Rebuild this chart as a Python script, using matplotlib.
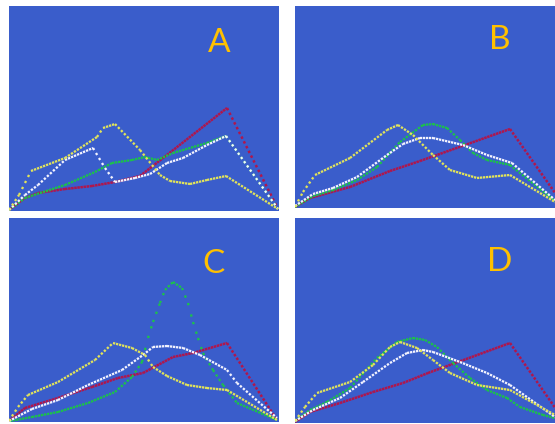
#!/usr/bin/env python3
# four panels of dotted curves on blue, labelled A-D
import numpy as np
import matplotlib.pyplot as plt

plt.rcParams['lines.scale_dashes'] = False

# curves, (x, y) in panel pixels from the lower-left corner
A_YELLOW = [(0, 1), (10, 16), (22, 40), (56, 53), (88, 74), (94, 83), (106, 87), (131, 61),
            (151, 36), (161, 30), (181, 27), (198, 31), (217, 35), (269, 2)]
A_WHITE = [(0, 1), (16, 16), (29, 26), (56, 51), (84, 63), (96, 43), (106, 29), (126, 33),
           (141, 37), (158, 48), (174, 53), (198, 66), (217, 75), (269, 2)]
A_GREEN = [(0, 1), (16, 13), (28, 17), (56, 26), (86, 39), (103, 48), (123, 51), (136, 54),
           (148, 51), (164, 58), (198, 68), (217, 75), (269, 2)]
A_RED = [(0, 1), (16, 13), (29, 18), (56, 22), (83, 25), (106, 29), (131, 35), (218, 103), (269, 2)]

B_YELLOW = [(0, 1), (8, 16), (20, 33), (55, 50), (92, 78), (103, 83), (118, 73), (138, 53),
            (155, 38), (182, 30), (215, 33), (260, 6), (270, 1)]
B_WHITE = [(0, 2), (18, 14), (38, 20), (62, 31), (92, 53), (108, 64), (125, 70), (138, 70),
           (168, 63), (192, 53), (217, 45), (260, 8), (270, 1)]
B_GREEN = [(0, 1), (18, 12), (38, 18), (62, 28), (82, 41), (105, 66), (128, 83), (138, 84),
           (152, 80), (165, 68), (178, 55), (192, 48), (215, 43), (260, 7), (270, 1)]
B_RED = [(0, 1), (15, 10), (55, 21), (95, 37), (125, 47), (215, 79), (270, 1)]

C_YELLOW = [(0, 1), (9, 15), (19, 27), (49, 40), (86, 62), (104, 79), (123, 74), (136, 67),
            (144, 55), (158, 46), (178, 37), (198, 34), (218, 32), (268, 2)]
C_WHITE = [(0, 1), (23, 13), (49, 22), (79, 37), (113, 52), (134, 67), (144, 75), (158, 76),
           (174, 74), (191, 67), (218, 52), (228, 39), (268, 4)]
C_GREEN = [(1, 1), (23, 5), (49, 10), (79, 19), (106, 30), (123, 45), (133, 60), (139, 84),
           (144, 100), (151, 119), (156, 132), (164, 140), (173, 134), (179, 119), (184, 100),
           (189, 84), (194, 69), (204, 52), (214, 37), (228, 19), (268, 2)]
C_RED = [(0, 1), (16, 14), (49, 24), (83, 35), (109, 44), (134, 49), (164, 65), (184, 69),
         (218, 79), (268, 2)]

D_YELLOW = [(0, 2), (10, 16), (22, 30), (55, 41), (78, 58), (95, 76), (105, 81), (122, 75),
            (138, 63), (155, 50), (182, 38), (215, 33), (260, 8), (270, 2)]
D_WHITE = [(0, 2), (18, 13), (45, 25), (68, 41), (95, 60), (112, 70), (128, 73), (138, 71),
           (165, 61), (192, 50), (215, 38), (260, 6), (270, 2)]
D_GREEN = [(0, 2), (15, 13), (32, 21), (55, 35), (82, 65), (102, 81), (118, 85), (130, 83),
           (142, 76), (158, 60), (175, 45), (192, 33), (212, 25), (225, 16), (248, 8),
           (260, 5), (270, 2)]
D_RED = [(0, 1), (15, 11), (45, 20), (78, 31), (108, 40), (133, 50), (215, 80), (270, 1)]

LETTERS = ['A', 'B', 'C', 'D']

BLUE = '#3a5dcb'
RED = '#b0164c'
GREEN = '#1cc24a'
WHITE = '#f4f4ff'
YELLOW = '#e2e45a'
GOLD = '#ffc000'


def dotted(ax, pts, color, step=3.0, size=2.0):
    # dots every `step` px in x, so steep parts come out sparse
    for (x0, y0), (x1, y1) in zip(pts[:-1], pts[1:]):
        dx = abs(x1 - x0)
        length = np.hypot(x1 - x0, y1 - y0)
        spacing = step * length / dx if dx > 0 else step
        gap = max(spacing - size, 0.6)
        ax.plot([x0, x1], [y0, y1], color=color, lw=size * 0.72,
                dash_capstyle='butt', linestyle=(0, (size * 0.72, gap * 0.72)))


W, H = 555, 424
fig = plt.figure(figsize=(W / 100, H / 100), dpi=100)

# left, bottom (px from top), panel height, letter position
panels = [
    (9, 211, 205, (210, 168), [A_RED, A_GREEN, A_WHITE, A_YELLOW]),
    (295, 208, 202, (205, 168), [B_RED, B_GREEN, B_WHITE, B_YELLOW]),
    (9, 422, 204, (204, 158), [C_RED, C_GREEN, C_WHITE, C_YELLOW]),
    (295, 423, 205, (205, 161), [D_RED, D_GREEN, D_WHITE, D_YELLOW]),
]

for letter, (left, bottom, ph, (tx, ty), series) in zip(LETTERS, panels):
    ax = fig.add_axes([left / W, (H - bottom) / H, 270 / W, ph / H])
    ax.set_facecolor(BLUE)
    ax.set_xlim(0, 270)
    ax.set_ylim(0, ph)
    ax.set_xticks([])
    ax.set_yticks([])
    for s in ax.spines.values():
        s.set_visible(False)
    red, green, white, yellow = series
    dotted(ax, red, RED, step=2.4, size=2.5)
    dotted(ax, green, GREEN, size=2.3)
    dotted(ax, white, WHITE, size=2.3)
    dotted(ax, yellow, YELLOW, size=2.3)
    ax.text(tx, ty, letter, ha='center', va='center', fontsize=24,
            color=GOLD, family=['Lato', 'DejaVu Sans'])

fig.savefig('out.png', dpi=100)
